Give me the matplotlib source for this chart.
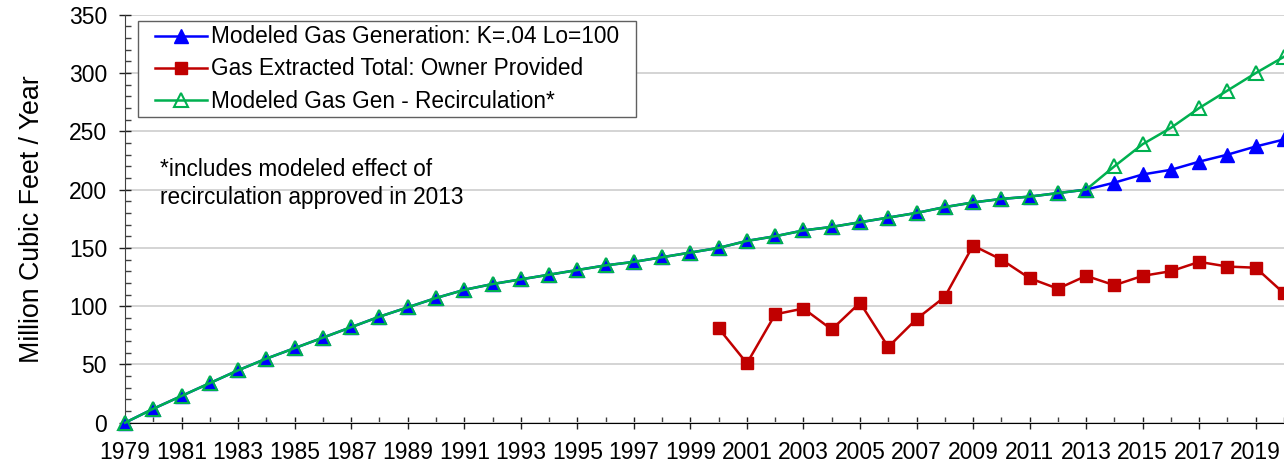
import numpy as np
import matplotlib
matplotlib.use("Agg")
import matplotlib.pyplot as plt
from matplotlib.ticker import MultipleLocator
from matplotlib.patches import Rectangle

plt.rcParams['font.family'] = ['Liberation Sans', 'DejaVu Sans']

years = np.arange(1979, 2021)

# modeled gas generation (K=.04, Lo=100)
gen = [0, 12, 23, 34, 45, 55, 64, 73, 82, 91,
       99, 107, 114, 119, 123, 127, 131, 135, 138, 142,
       146, 150, 156, 160, 165, 168, 172, 176, 180, 185,
       189, 192, 194, 197, 200, 206, 213, 217, 224, 230,
       237, 243]

# same model with recirculation after 2013
gen_recirc = gen[:35] + [220, 239, 253, 270, 285, 300, 314]

# gas extracted, owner provided (2000 - 2020)
ext_years = np.arange(2000, 2021)
extracted = [81, 51, 93, 98, 80, 103, 65, 89, 108, 152,
             140, 124, 115, 126, 118, 126, 130, 138, 134, 133, 111]

fig = plt.figure(figsize=(12.84, 4.62), dpi=100)
ax = fig.add_axes([0.0974, 0.085, 0.9026, 0.883])

ax.plot(years, gen, color='#0000FF', lw=1.8, marker='^', ms=10,
        label='Modeled Gas Generation: K=.04 Lo=100', zorder=3, clip_on=False)
ax.plot(ext_years, extracted, color='#C00000', lw=1.8, marker='s', ms=9,
        label='Gas Extracted Total: Owner Provided', zorder=3, clip_on=False)
ax.plot(years, gen_recirc, color='#00B050', lw=1.8, marker='^', ms=10,
        mfc='none', mew=1.5, label='Modeled Gas Gen - Recirculation*',
        zorder=4, clip_on=False)

ax.set_xlim(1979, 2020)
ax.set_ylim(0, 350)
ax.set_xticks(years[::2])
ax.set_xticks(years, minor=True)
ax.yaxis.set_major_locator(MultipleLocator(50))
ax.yaxis.set_minor_locator(MultipleLocator(10))
ax.grid(axis='y', which='major', color='#d4d4d4', lw=1.4)
ax.set_axisbelow(True)

for s in ['top', 'right']:
    ax.spines[s].set_visible(False)
ax.spines['left'].set_color('#404040')
ax.spines['bottom'].set_color('black')

ax.tick_params(axis='both', which='major', labelsize=16.5, direction='inout',
               length=8, width=1, color='#202020')
ax.tick_params(axis='both', which='minor', direction='in', length=4,
               width=1, color='#404040')
ax.tick_params(axis='x', which='major', pad=9)
ax.tick_params(axis='y', which='major', pad=9)

ax.set_ylabel('Million Cubic Feet / Year', fontsize=19.3, labelpad=17)

ax.text(0.030, 0.65, '*includes modeled effect of\nrecirculation approved in 2013',
        transform=ax.transAxes, fontsize=16.3, va='top', ha='left',
        linespacing=1.3)

# legend without its own frame; a wider box is drawn round it below
leg = ax.legend(loc='upper left', bbox_to_anchor=(0.022, 0.985), fontsize=16.3,
                frameon=False, handlelength=2.3, borderpad=0.2,
                labelspacing=0.4, handletextpad=0.15, borderaxespad=0)
leg.set_zorder(6)

fig.canvas.draw()
bb = leg.get_window_extent().transformed(fig.transFigure.inverted())
padx = 12.5 / fig.bbox.width
box = Rectangle((bb.x0 - padx, bb.y0), bb.width + 2 * padx, bb.height,
                transform=fig.transFigure, facecolor='white',
                edgecolor='#606060', lw=1.0, zorder=5)
ax.add_artist(box)

fig.savefig('out.png', dpi=100)
